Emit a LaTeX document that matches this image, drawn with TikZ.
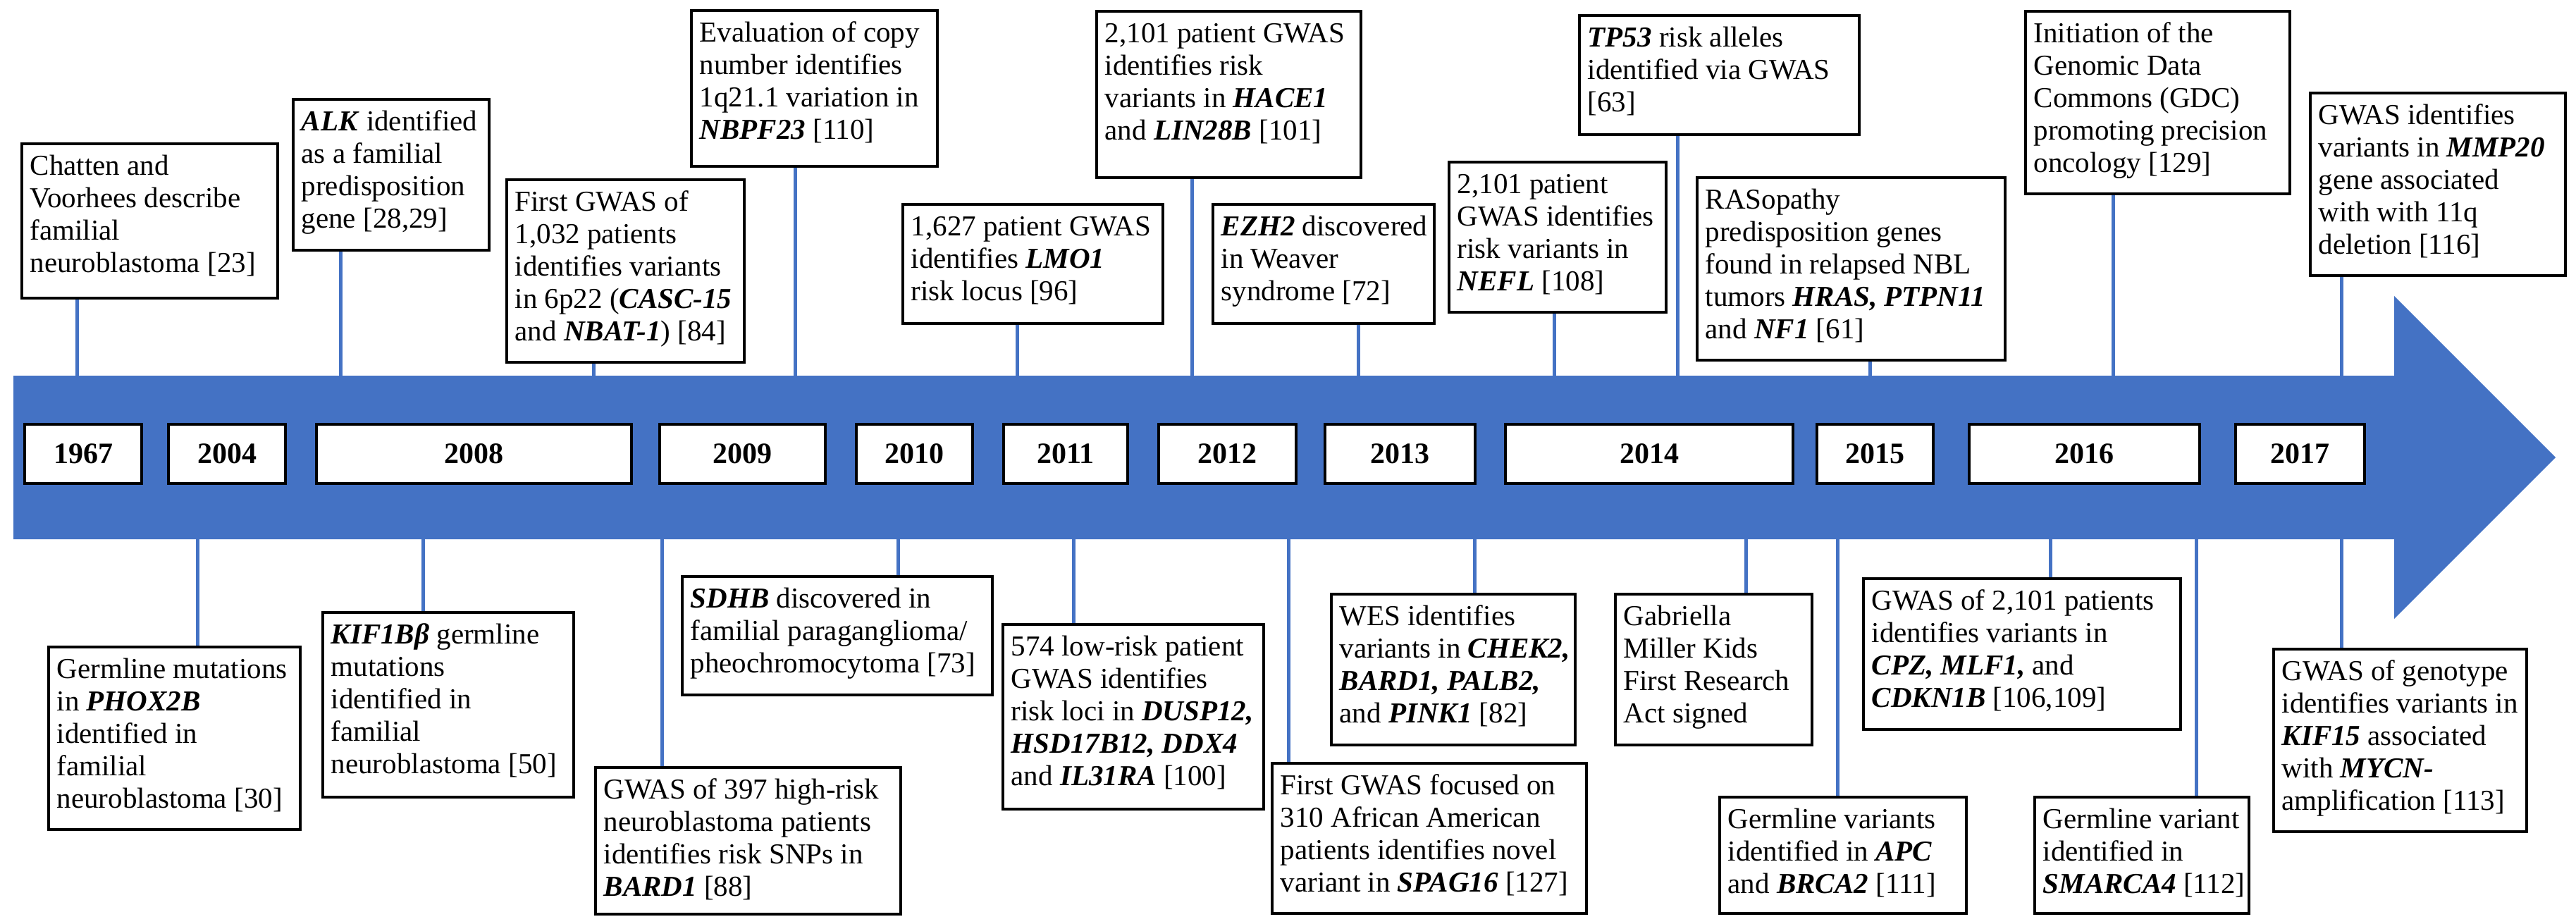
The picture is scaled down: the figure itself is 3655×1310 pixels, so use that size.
\documentclass[tikz,border=0pt]{standalone}
\usepackage{fontspec}
\setmainfont{Liberation Serif}
\definecolor{band}{HTML}{4472C4}
\newcommand\gn[1]{\textbf{\textit{#1}}}
\newcommand\evfont{\fontsize{41}{46}\selectfont}
\tikzset{
 evbox/.style={draw=black, line width=3.5pt, fill=white, inner sep=0pt, anchor=north west},
 yearbox/.style={draw=black, line width=3.5pt, fill=white, inner sep=0pt, minimum height=84pt, font=\fontsize{42}{48}\selectfont\bfseries},
 conn/.style={draw=band, line width=5pt},
}
\newcommand\evnode[6]{\node[evbox] (#1) at (#2,#3) {\parbox[c][#5pt][t]{#4pt}{\evfont\parindent=0pt\leftskip=12pt\rightskip=0pt plus 1fil\hyphenpenalty=10000\exhyphenpenalty=10000\rule{0pt}{45pt}#6}};}
\begin{document}
\begin{tikzpicture}[x=1pt,y=-1pt]
\useasboundingbox (0,0) rectangle (3655,1310);
% band arrow
\fill[band] (19,533) -- (3397,533) -- (3397,420) -- (3626,649) -- (3397,878) -- (3397,765) -- (19,765) -- cycle;
% years
\node[yearbox, minimum width=166pt] (y1967) at (118,644) {1967};
\node[yearbox, minimum width=166pt] (y2004) at (322,644) {2004};
\node[yearbox, minimum width=447pt] (y2008) at (672.5,644) {2008};
\node[yearbox, minimum width=235pt] (y2009) at (1053.5,644) {2009};
\node[yearbox, minimum width=165pt] (y2010) at (1297.5,644) {2010};
\node[yearbox, minimum width=176pt] (y2011) at (1512,644) {2011};
\node[yearbox, minimum width=195pt] (y2012) at (1741.5,644) {2012};
\node[yearbox, minimum width=213pt] (y2013) at (1986.5,644) {2013};
\node[yearbox, minimum width=408pt] (y2014) at (2340,644) {2014};
\node[yearbox, minimum width=165pt] (y2015) at (2660.5,644) {2015};
\node[yearbox, minimum width=327pt] (y2016) at (2957.5,644) {2016};
\node[yearbox, minimum width=183pt] (y2017) at (3263.5,644) {2017};
% top events
\evnode{t1}{29}{202}{363}{219}{Chatten and\\Voorhees describe\\familial\\neuroblastoma [23]}
\evnode{t2}{414}{139}{278}{214}{\gn{ALK} identified\\as a familial\\predisposition\\gene [28,29]}
\evnode{t3}{717}{253}{337}{259}{First GWAS of\\1,032 patients\\identifies variants\\in 6p22 (\gn{CASC-15}\\and \gn{NBAT-1}) [84]}
\evnode{t4}{979}{13}{349}{221}{Evaluation of copy\\number identifies\\1q21.1 variation in\\\gn{NBPF23} [110]}
\evnode{t5}{1279}{288}{369}{169}{1,627 patient GWAS\\identifies \gn{LMO1}\\risk locus [96]}
\evnode{t6}{1554}{14}{375}{236}{2,101 patient GWAS\\identifies risk\\variants in \gn{HACE1}\\and \gn{LIN28B} [101]}
\evnode{t7}{1719}{288}{314}{169}{\gn{EZH2} discovered\\in Weaver\\syndrome [72]}
\evnode{t8}{2054}{228}{308}{213}{2,101 patient\\GWAS identifies\\risk variants in\\\gn{NEFL} [108]}
\evnode{t9}{2239}{20}{397}{169}{\gn{TP53} risk alleles\\identified via GWAS\\{[63]}}
\evnode{t10}{2406}{250}{437}{259}{RASopathy\\predisposition genes\\found in relapsed NBL\\tumors \gn{HRAS, PTPN11}\\and \gn{NF1} [61]}
\evnode{t11}{2872}{14}{375}{259}{Initiation of the\\Genomic Data\\Commons (GDC)\\promoting precision\\oncology [129]}
\evnode{t12}{3276}{130}{362}{259}{GWAS identifies\\variants in \gn{MMP20}\\gene associated\\with with 11q\\deletion [116]}
% bottom events
\evnode{b1}{67}{916}{357}{259}{Germline mutations\\in \gn{PHOX2B}\\identified in\\familial\\neuroblastoma [30]}
\evnode{b2}{456}{867}{356}{262}{\gn{KIF1Bβ} germline\\mutations\\identified in\\familial\\neuroblastoma [50]}
\evnode{b3}{843}{1087}{433}{208}{GWAS of 397 high-risk\\neuroblastoma patients\\identifies risk SNPs in\\\gn{BARD1} [88]}
\evnode{b4}{966}{816}{440}{168}{\gn{SDHB} discovered in\\familial paraganglioma/\\pheochromocytoma [73]}
\evnode{b5}{1421}{884}{370}{262}{574 low-risk patient\\GWAS identifies\\risk loci in \gn{DUSP12,}\\\gn{HSD17B12, DDX4}\\and \gn{IL31RA} [100]}
\evnode{b6}{1803}{1081}{446}{213}{First GWAS focused on\\310 African American\\patients identifies novel\\variant in \gn{SPAG16} [127]}
\evnode{b7}{1887}{841}{346}{214}{WES identifies\\variants in \gn{CHEK2,}\\\gn{BARD1, PALB2,}\\and \gn{PINK1} [82]}
\evnode{b8}{2290}{841}{279}{214}{Gabriella\\Miller Kids\\First Research\\Act signed}
\evnode{b9}{2438}{1129}{350}{165}{Germline variants\\identified in \gn{APC}\\and \gn{BRCA2} [111]}
\evnode{b10}{2642}{819}{450}{214}{GWAS of 2,101 patients\\identifies variants in\\\gn{CPZ, MLF1,} and\\\gn{CDKN1B} [106,109]}
\evnode{b11}{2885}{1129}{304}{165}{Germline variant\\identified in\\\gn{SMARCA4} [112]}
\evnode{b12}{3224}{919}{359}{259}{GWAS of genotype\\identifies variants in\\\gn{KIF15} associated\\with \gn{MYCN-}\\amplification [113]}
% connector end points on the band
\coordinate (tc1) at (109,540);
\coordinate (tc2) at (483,540);
\coordinate (tc3) at (842,540);
\coordinate (tc4) at (1128,540);
\coordinate (tc5) at (1443,540);
\coordinate (tc6) at (1691,540);
\coordinate (tc7) at (1927,540);
\coordinate (tc8) at (2205,540);
\coordinate (tc9) at (2380,540);
\coordinate (tc10) at (2653,540);
\coordinate (tc11) at (2998,540);
\coordinate (tc12) at (3322,540);
\coordinate (bc1) at (280,758);
\coordinate (bc2) at (600,758);
\coordinate (bc3) at (939,758);
\coordinate (bc4) at (1274,758);
\coordinate (bc5) at (1523,758);
\coordinate (bc6) at (1828,758);
\coordinate (bc7) at (2092,758);
\coordinate (bc8) at (2477,758);
\coordinate (bc9) at (2607,758);
\coordinate (bc10) at (2909,758);
\coordinate (bc11) at (3116,758);
\coordinate (bc12) at (3322,758);
\foreach \i in {1,...,12}{
  \draw[conn] (tc\i |- t\i.south) -- (tc\i);
  \draw[conn] (bc\i) -- (bc\i |- b\i.north);
}
\end{tikzpicture}
\end{document}
